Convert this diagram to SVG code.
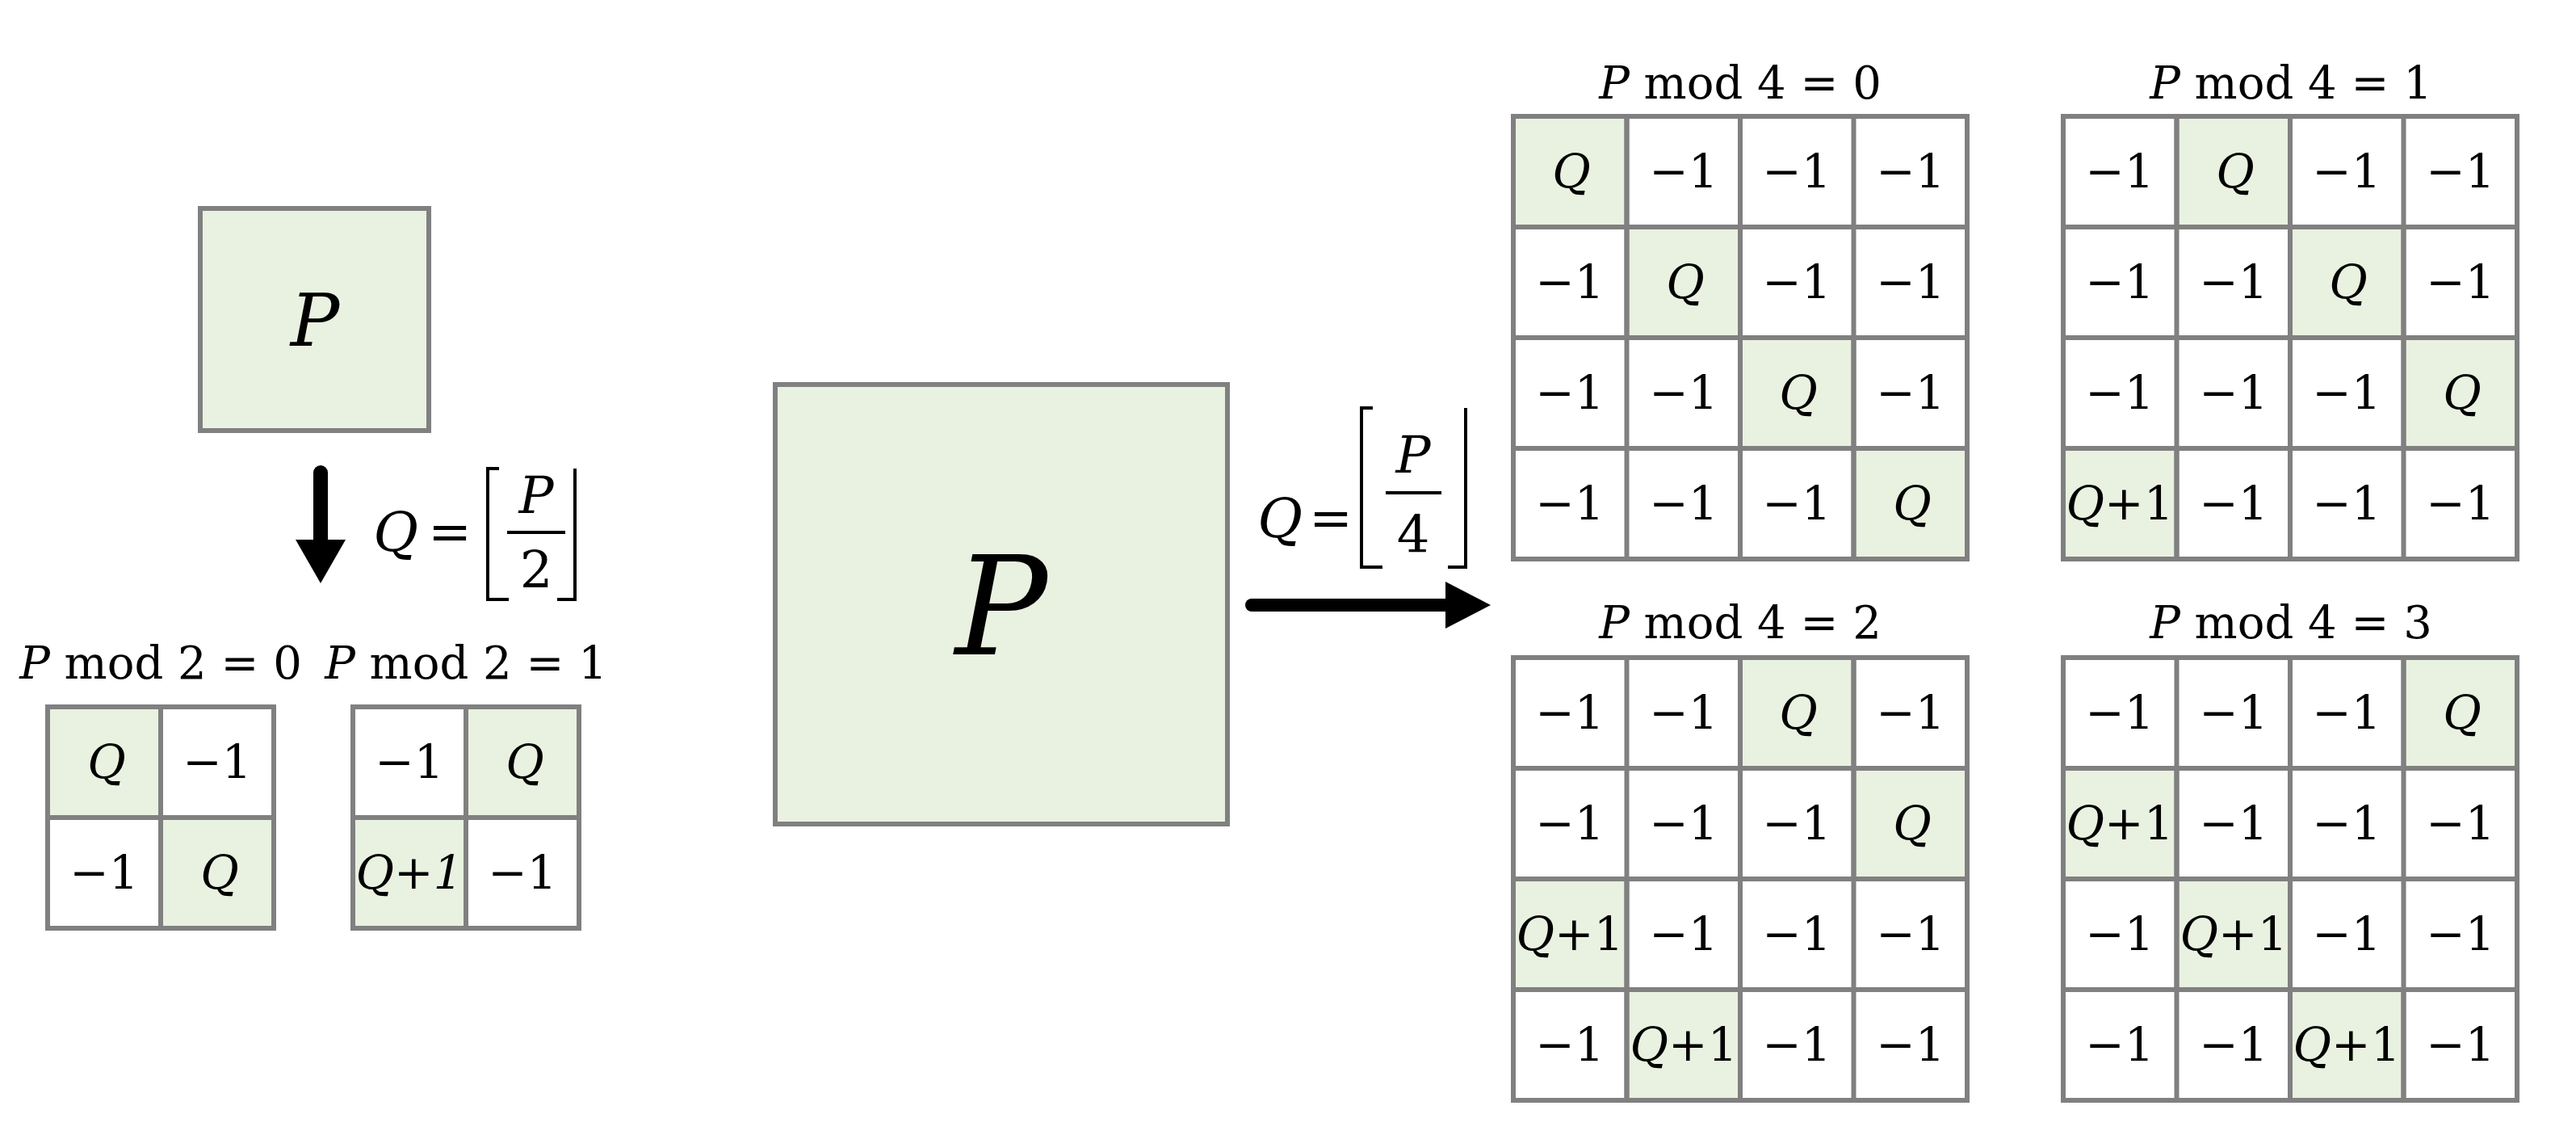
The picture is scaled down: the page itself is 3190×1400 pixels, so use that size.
<svg xmlns="http://www.w3.org/2000/svg" width="3190" height="1400" viewBox="0 0 3190 1400">
<style>
.g{fill:#e9f1e0;stroke:#808080;stroke-width:6}
.w{fill:#fff;stroke:#808080;stroke-width:6}
text{font-family:"DejaVu Serif","Liberation Serif",serif;fill:#000;text-anchor:middle}
.c{font-size:58px}
.i{font-style:italic}
.t{font-size:56px}
.br{fill:none;stroke:#000;stroke-width:4}
</style>
<g id="smallP"><rect class="g" x="248" y="258" width="283" height="275"/><text class="i" x="390" y="428" font-size="90">P</text></g>
<g id="bigP"><rect class="g" x="960" y="476" width="560" height="544"/><text class="i" x="1240" y="810" font-size="170">P</text></g>
<g id="connectors">
<path d="M397 585 V675" stroke="#000" stroke-width="18" stroke-linecap="round" fill="none"/>
<polygon points="366,668 428,668 397,722"/>
<path d="M1550 749 H1795" stroke="#000" stroke-width="16" stroke-linecap="round" fill="none"/>
<polygon points="1790,720 1846,749 1790,778"/>
</g>
<g id="label2">
<text class="i" x="490" y="682" font-size="68">Q</text><text x="557" y="680" font-size="64">=</text>
<path class="br" d="M618 580 H604 V742 H630 M712 580 V742 H690"/>
<line x1="628" y1="659" x2="700" y2="659" stroke="#000" stroke-width="4"/>
<text class="i" x="664" y="635" font-size="64">P</text><text x="664" y="728" font-size="64">2</text>
</g>
<g id="label4">
<text class="i" x="1585" y="665" font-size="68">Q</text><text x="1648" y="663" font-size="64">=</text>
<path class="br" d="M1700 505 H1686 V702 H1712 M1815 505 V702 H1793"/>
<line x1="1716" y1="610" x2="1785" y2="610" stroke="#000" stroke-width="4"/>
<text class="i" x="1750" y="585" font-size="64">P</text><text x="1750" y="684" font-size="64">4</text>
</g>
<g id="titles" class="t">
<text x="199" y="840"><tspan class="i">P</tspan> mod 2 = 0</text>
<text x="577" y="840"><tspan class="i">P</tspan> mod 2 = 1</text>
<text x="2155" y="122"><tspan class="i">P</tspan> mod 4 = 0</text>
<text x="2837" y="122"><tspan class="i">P</tspan> mod 4 = 1</text>
<text x="2155" y="790"><tspan class="i">P</tspan> mod 4 = 2</text>
<text x="2837" y="790"><tspan class="i">P</tspan> mod 4 = 3</text>
</g>
<g id="grid2a" class="c">
<rect class="g" x="59" y="875" width="140" height="137"/><rect class="w" x="199" y="875" width="140" height="137"/>
<rect class="w" x="59" y="1012" width="140" height="137"/><rect class="g" x="199" y="1012" width="140" height="137"/>
<text class="i" x="132" y="963">Q</text><text x="269" y="963">−1</text>
<text x="129" y="1100">−1</text><text class="i" x="272" y="1100">Q</text>
</g>
<g id="grid2b" class="c">
<rect class="w" x="437" y="875" width="140" height="137"/><rect class="g" x="577" y="875" width="140" height="137"/>
<rect class="g" x="437" y="1012" width="140" height="137"/><rect class="w" x="577" y="1012" width="140" height="137"/>
<text x="507" y="963">−1</text><text class="i" x="650" y="963">Q</text>
<text class="i" x="507" y="1100">Q+1</text><text x="647" y="1100">−1</text>
</g>
<g id="grid4a" class="c">
<rect class="w" x="1874" y="144" width="562" height="548"/>
<rect class="g" x="1874" y="144" width="140.5" height="137"/><rect class="g" x="2014.5" y="281" width="140.5" height="137"/><rect class="g" x="2155" y="418" width="140.5" height="137"/><rect class="g" x="2295.5" y="555" width="140.5" height="137"/>
<path d="M2014.5 144V692M2155 144V692M2295.5 144V692M1874 281H2436M1874 418H2436M1874 555H2436" stroke="#808080" stroke-width="6"/>
<text class="i" x="1946" y="232">Q</text><text x="2085" y="232">−1</text><text x="2225" y="232">−1</text><text x="2366" y="232">−1</text>
<text x="1944" y="369">−1</text><text class="i" x="2087" y="369">Q</text><text x="2225" y="369">−1</text><text x="2366" y="369">−1</text>
<text x="1944" y="506">−1</text><text x="2085" y="506">−1</text><text class="i" x="2227" y="506">Q</text><text x="2366" y="506">−1</text>
<text x="1944" y="643">−1</text><text x="2085" y="643">−1</text><text x="2225" y="643">−1</text><text class="i" x="2368" y="643">Q</text>
</g>
<g id="grid4b" class="c">
<rect class="w" x="2555" y="144" width="562" height="548"/>
<rect class="g" x="2695.5" y="144" width="140.5" height="137"/><rect class="g" x="2836" y="281" width="140.5" height="137"/><rect class="g" x="2976.5" y="418" width="140.5" height="137"/><rect class="g" x="2555" y="555" width="140.5" height="137"/>
<path d="M2695.5 144V692M2836 144V692M2976.5 144V692M2555 281H3117M2555 418H3117M2555 555H3117" stroke="#808080" stroke-width="6"/>
<text x="2625" y="232">−1</text><text class="i" x="2768" y="232">Q</text><text x="2906" y="232">−1</text><text x="3047" y="232">−1</text>
<text x="2625" y="369">−1</text><text x="2766" y="369">−1</text><text class="i" x="2908" y="369">Q</text><text x="3047" y="369">−1</text>
<text x="2625" y="506">−1</text><text x="2766" y="506">−1</text><text x="2906" y="506">−1</text><text class="i" x="3049" y="506">Q</text>
<text x="2625" y="643"><tspan class="i">Q</tspan>+1</text><text x="2766" y="643">−1</text><text x="2906" y="643">−1</text><text x="3047" y="643">−1</text>
</g>
<g id="grid4c" class="c">
<rect class="w" x="1874" y="814" width="562" height="548"/>
<rect class="g" x="2155" y="814" width="140.5" height="137"/><rect class="g" x="2295.5" y="951" width="140.5" height="137"/><rect class="g" x="1874" y="1088" width="140.5" height="137"/><rect class="g" x="2014.5" y="1225" width="140.5" height="137"/>
<path d="M2014.5 814V1362M2155 814V1362M2295.5 814V1362M1874 951H2436M1874 1088H2436M1874 1225H2436" stroke="#808080" stroke-width="6"/>
<text x="1944" y="902">−1</text><text x="2085" y="902">−1</text><text class="i" x="2227" y="902">Q</text><text x="2366" y="902">−1</text>
<text x="1944" y="1039">−1</text><text x="2085" y="1039">−1</text><text x="2225" y="1039">−1</text><text class="i" x="2368" y="1039">Q</text>
<text x="1944" y="1176"><tspan class="i">Q</tspan>+1</text><text x="2085" y="1176">−1</text><text x="2225" y="1176">−1</text><text x="2366" y="1176">−1</text>
<text x="1944" y="1313">−1</text><text x="2085" y="1313"><tspan class="i">Q</tspan>+1</text><text x="2225" y="1313">−1</text><text x="2366" y="1313">−1</text>
</g>
<g id="grid4d" class="c">
<rect class="w" x="2555" y="814" width="562" height="548"/>
<rect class="g" x="2976.5" y="814" width="140.5" height="137"/><rect class="g" x="2555" y="951" width="140.5" height="137"/><rect class="g" x="2695.5" y="1088" width="140.5" height="137"/><rect class="g" x="2836" y="1225" width="140.5" height="137"/>
<path d="M2695.5 814V1362M2836 814V1362M2976.5 814V1362M2555 951H3117M2555 1088H3117M2555 1225H3117" stroke="#808080" stroke-width="6"/>
<text x="2625" y="902">−1</text><text x="2766" y="902">−1</text><text x="2906" y="902">−1</text><text class="i" x="3049" y="902">Q</text>
<text x="2625" y="1039"><tspan class="i">Q</tspan>+1</text><text x="2766" y="1039">−1</text><text x="2906" y="1039">−1</text><text x="3047" y="1039">−1</text>
<text x="2625" y="1176">−1</text><text x="2766" y="1176"><tspan class="i">Q</tspan>+1</text><text x="2906" y="1176">−1</text><text x="3047" y="1176">−1</text>
<text x="2625" y="1313">−1</text><text x="2766" y="1313">−1</text><text x="2906" y="1313"><tspan class="i">Q</tspan>+1</text><text x="3047" y="1313">−1</text>
</g>
</svg>
